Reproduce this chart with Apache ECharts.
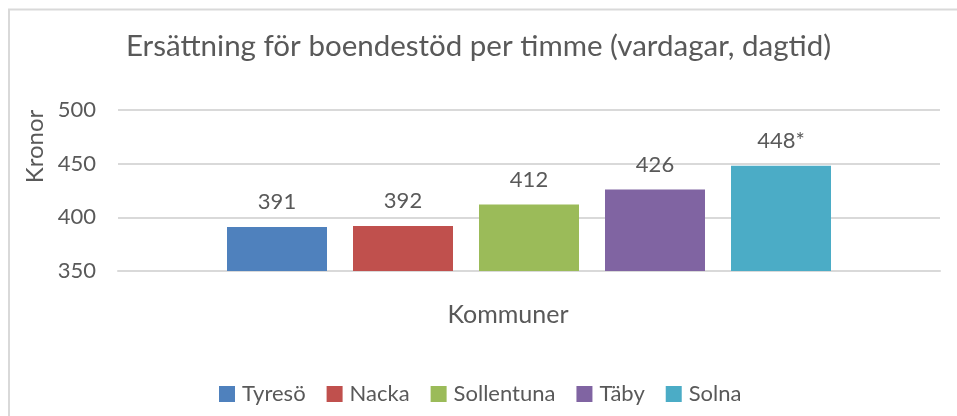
<!DOCTYPE html>
<html>
<head>
<meta charset="utf-8">
<title>Ersättning för boendestöd</title>
<script src="https://cdn.jsdelivr.net/npm/echarts@6/dist/echarts.min.js"></script>
<style>
    html, body { margin: 0; padding: 0; background: #fff; }
    #main { width: 957px; height: 416px; }
</style>
</head>
<body>
<div id="main"></div>
<script>
// data
var categories = ['Kommuner'];
var kommuner = ['Tyresö', 'Nacka', 'Sollentuna', 'Täby', 'Solna'];
var kronor = [391, 392, 412, 426, 448];
var etiketter = ['391', '392', '412', '426', '448*'];

var textColor = '#595959';
var fontFamily = 'Lato, "Open Sans", sans-serif';

var div = document.getElementById("main");
var myChart = echarts.init(div);

// one series per kommun, all in the same category
var series = kommuner.map(function (namn, i) {
    return {
        name: namn,
        type: 'bar',
        barWidth: 100,
        barGap: '26%',
        data: [kronor[i]],
        label: {
            show: true,
            position: 'top',
            distance: 14,
            color: textColor,
            fontFamily: fontFamily,
            fontSize: 22,
            formatter: function () { return etiketter[i]; }
        }
    };
});

var option = {
    animation: false,
    backgroundColor: '#fff',
    color: ['#4F81BD', '#C0504D', '#9BBB59', '#8064A2', '#4BACC6'],
    textStyle: { fontFamily: fontFamily },
    // chart frame
    graphic: [{
        type: 'rect',
        shape: { x: 9, y: 9.5, width: 1000, height: 500 },
        style: { fill: 'none', stroke: '#d9d9d9', lineWidth: 2 },
        silent: true
    }],
    title: {
        text: 'Ersättning för boendestöd per timme (vardagar, dagtid)',
        left: 'center',
        top: 26,
        textStyle: {
            color: textColor,
            fontFamily: fontFamily,
            fontWeight: 'normal',
            fontSize: 29.5
        }
    },
    legend: {
        data: kommuner,
        left: 214,
        top: 378,
        icon: 'rect',
        itemWidth: 16,
        itemHeight: 16,
        itemGap: 21,
        textStyle: {
            color: textColor,
            fontFamily: fontFamily,
            fontSize: 22,
            padding: [0, 0, 0, 2]
        }
    },
    grid: {
        left: 118,
        right: 17,
        top: 110,
        bottom: 145
    },
    xAxis: {
        type: 'category',
        data: categories,
        name: 'Kommuner',
        nameLocation: 'middle',
        nameGap: 31,
        nameTextStyle: {
            color: textColor,
            fontFamily: fontFamily,
            fontSize: 25,
            padding: [0, 42, 0, 0]
        },
        axisLabel: { show: false },
        axisTick: { show: false },
        axisLine: { lineStyle: { color: '#d9d9d9', width: 2 } }
    },
    yAxis: {
        type: 'value',
        min: 350,
        max: 500,
        interval: 50,
        name: 'Kronor',
        nameLocation: 'middle',
        nameRotate: 90,
        nameGap: 70,
        nameTextStyle: {
            color: textColor,
            fontFamily: fontFamily,
            fontSize: 24,
            padding: [0, 0, 0, 88]
        },
        axisLabel: {
            color: textColor,
            fontFamily: fontFamily,
            fontSize: 22,
            margin: 22
        },
        axisLine: { show: false },
        axisTick: { show: false },
        splitLine: { lineStyle: { color: '#d9d9d9', width: 2 } }
    },
    series: series
};

myChart.setOption(option);
</script>
</body>
</html>
